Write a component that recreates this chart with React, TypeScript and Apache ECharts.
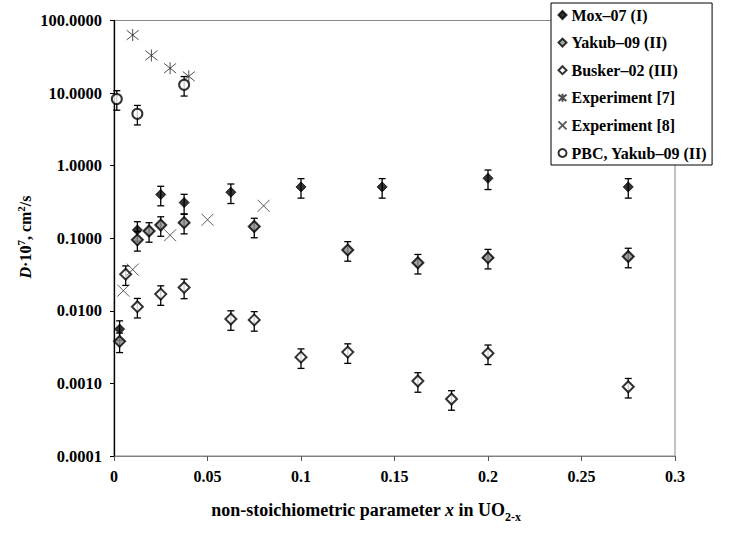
import React, { useEffect, useRef } from "react";
import * as echarts from "echarts";

const FONT = "Times New Roman";

const xTickLabels = ["0", "0.05", "0.1", "0.15", "0.2", "0.25", "0.3"];
const yTickLabels = ["0.0001", "0.0010", "0.0100", "0.1000", "1.0000", "10.0000", "100.0000"];

const moxX = [0.003, 0.0125, 0.025, 0.0375, 0.0625, 0.1, 0.1434, 0.2, 0.275];
const moxY = [0.0056, 0.13, 0.4, 0.31, 0.43, 0.51, 0.51, 0.67, 0.51];

const yakubX = [0.003, 0.0125, 0.01875, 0.025, 0.0375, 0.075, 0.125, 0.1625, 0.2, 0.275];
const yakubY = [0.0038, 0.095, 0.126, 0.152, 0.164, 0.145, 0.069, 0.046, 0.054, 0.056];

const buskerX = [0.00625, 0.0125, 0.025, 0.0375, 0.0625, 0.075, 0.1, 0.125, 0.1625, 0.1805, 0.2, 0.275];
const buskerY = [0.032, 0.0114, 0.017, 0.021, 0.0077, 0.0075, 0.0023, 0.0027, 0.00108, 0.00061, 0.0026, 0.0009];

const exp7X = [0.01, 0.02, 0.03, 0.04];
const exp7Y = [63, 33, 22, 17];

const exp8X = [0.005, 0.01, 0.03, 0.05, 0.08];
const exp8Y = [0.019, 0.037, 0.11, 0.18, 0.28];

const pbcX = [0.0015, 0.0125, 0.0375];
const pbcY = [8.3, 5.2, 13];

// relative error of the error bars (percentage type)
const ERR = 0.3;

const pairs = (xs: number[], ys: number[]) => xs.map((x, i) => [x, ys[i]]);
const errs = (xs: number[], ys: number[]) => xs.map((x, i) => [x, ys[i] * (1 - ERR), ys[i] * (1 + ERR)]);

const ASTERISK = "path://M0,1 L10,9 M10,1 L0,9 M5,0 L5,10";
const CROSS = "path://M0,0 L10,10 M10,0 L0,10";

function errSeries(name: string, data: number[][]) {
  return {
    type: "custom",
    name,
    z: 1,
    data,
    encode: { x: 0, y: [1, 2] },
    renderItem: (_p: any, api: any) => {
      const x = api.value(0);
      const lo = api.coord([x, api.value(1)]);
      const hi = api.coord([x, api.value(2)]);
      const w = 3.5;
      const st = { stroke: "#000", lineWidth: 1.3, fill: "none" };
      return {
        type: "group",
        children: [
          { type: "line", shape: { x1: lo[0], y1: lo[1], x2: hi[0], y2: hi[1] }, style: st },
          { type: "line", shape: { x1: lo[0] - w, y1: lo[1], x2: lo[0] + w, y2: lo[1] }, style: st },
          { type: "line", shape: { x1: hi[0] - w, y1: hi[1], x2: hi[0] + w, y2: hi[1] }, style: st },
        ],
      };
    },
  };
}

export default function App() {
  const ref = useRef<HTMLDivElement>(null);
  useEffect(() => {
    document.body.style.margin = "0";
    const chart = echarts.init(ref.current!, null, { renderer: "svg" });
    const option: any = {
      animation: false,
      backgroundColor: "#fff",
      textStyle: { fontFamily: FONT },
      grid: {
        left: 114,
        right: 56,
        top: 20.5,
        bottom: 77,
        show: true,
        borderColor: "#888",
        borderWidth: 1,
      },
      legend: {
        orient: "vertical",
        left: 551,
        top: 3,
        padding: [4, 5, 4, 5],
        itemGap: 11.6,
        itemWidth: 8,
        itemHeight: 8,
        backgroundColor: "#fff",
        borderColor: "#000",
        borderWidth: 1,
        borderRadius: 0,
        textStyle: { fontFamily: FONT, fontWeight: "bold", fontSize: 16, color: "#000", lineHeight: 16 },
        data: ["Mox–07 (I)", "Yakub–09 (II)", "Busker–02 (III)", "Experiment [7]", "Experiment [8]", "PBC, Yakub–09 (II)"],
      },
      xAxis: {
        type: "value",
        min: 0,
        max: 0.3,
        interval: 0.05,
        splitLine: { show: false },
        axisLine: { show: true, onZero: false, lineStyle: { color: "#808080", width: 1 } },
        axisTick: { show: true, inside: false, length: 5, lineStyle: { color: "#555" } },
        axisLabel: {
          margin: 12,
          fontFamily: FONT,
          fontWeight: "bold",
          fontSize: 16,
          color: "#000",
          formatter: (v: number) => {
            const i = Math.round(v / 0.05);
            return xTickLabels[i] ?? "";
          },
        },
      },
      yAxis: {
        type: "log",
        logBase: 10,
        min: 0.0001,
        max: 100,
        splitLine: { show: false },
        axisLine: { show: true, onZero: false, lineStyle: { color: "#000", width: 1.3 } },
        axisTick: { show: true, inside: false, length: 4, lineStyle: { color: "#000" } },
        minorTick: { show: false },
        axisLabel: {
          margin: 12,
          fontFamily: FONT,
          fontWeight: "bold",
          fontSize: 16.5,
          color: "#000",
          formatter: (v: number) => {
            const i = Math.round(Math.log10(v)) + 4;
            return yTickLabels[i] ?? "";
          },
        },
      },
      graphic: [
        {
          type: "text",
          x: 366,
          y: 510,
          style: {
            text: "{b|non-stoichiometric parameter }{i|x}{b| in UO}{s|2-x}",
            align: "center",
            verticalAlign: "middle",
            rich: {
              b: { fontFamily: FONT, fontWeight: "bold", fontSize: 18, lineHeight: 26, verticalAlign: "middle", fill: "#000" },
              i: { fontFamily: FONT, fontWeight: "bold", fontStyle: "italic", fontSize: 18, lineHeight: 26, verticalAlign: "middle", fill: "#000" },
              s: { fontFamily: FONT, fontWeight: "bold", fontSize: 12, lineHeight: 12, verticalAlign: "bottom", fill: "#000" },
            },
          },
        },
        {
          type: "text",
          x: 25,
          y: 237,
          rotation: Math.PI / 2,
          style: {
            text: "{i|D}{b|·10}{p|7}{b|, cm}{p|2}{b|/s}",
            align: "center",
            verticalAlign: "middle",
            rich: {
              b: { fontFamily: FONT, fontWeight: "bold", fontSize: 16, lineHeight: 20, verticalAlign: "middle", fill: "#000" },
              i: { fontFamily: FONT, fontWeight: "bold", fontStyle: "italic", fontSize: 16, lineHeight: 20, verticalAlign: "middle", fill: "#000" },
              p: { fontFamily: FONT, fontWeight: "bold", fontSize: 11, lineHeight: 11, verticalAlign: "top", fill: "#000" },
            },
          },
        },
      ],
      series: [
        errSeries("err-mox", errs(moxX, moxY)),
        errSeries("err-yakub", errs(yakubX, yakubY)),
        errSeries("err-busker", errs(buskerX, buskerY)),
        errSeries("err-pbc", errs(pbcX, pbcY)),
        {
          name: "Mox–07 (I)",
          type: "scatter",
          z: 3,
          symbol: "diamond",
          symbolSize: 10,
          itemStyle: { color: "#000", borderColor: "#000", borderWidth: 1 },
          data: pairs(moxX, moxY),
        },
        {
          name: "Yakub–09 (II)",
          type: "scatter",
          z: 3,
          symbol: "diamond",
          symbolSize: 11,
          itemStyle: { color: "#8c8c8c", borderColor: "#000", borderWidth: 2 },
          data: pairs(yakubX, yakubY),
        },
        {
          name: "Busker–02 (III)",
          type: "scatter",
          z: 3,
          symbol: "diamond",
          symbolSize: 11,
          itemStyle: { color: "#fff", borderColor: "#000", borderWidth: 2 },
          data: pairs(buskerX, buskerY),
        },
        {
          name: "Experiment [7]",
          type: "scatter",
          z: 3,
          symbol: ASTERISK,
          symbolSize: 12,
          itemStyle: { color: "none", borderColor: "#222", borderWidth: 1 },
          data: pairs(exp7X, exp7Y),
        },
        {
          name: "Experiment [8]",
          type: "scatter",
          z: 3,
          symbol: CROSS,
          symbolSize: 12,
          itemStyle: { color: "none", borderColor: "#333", borderWidth: 1 },
          data: pairs(exp8X, exp8Y),
        },
        {
          name: "PBC, Yakub–09 (II)",
          type: "scatter",
          z: 3,
          symbol: "circle",
          symbolSize: 10,
          itemStyle: { color: "#fff", borderColor: "#000", borderWidth: 2 },
          data: pairs(pbcX, pbcY),
        },
      ],
    };
    chart.setOption(option);
    return () => chart.dispose();
  }, []);
  return <div ref={ref} style={{ position: "fixed", left: 0, top: 0, width: 731, height: 533 }} />;
}
